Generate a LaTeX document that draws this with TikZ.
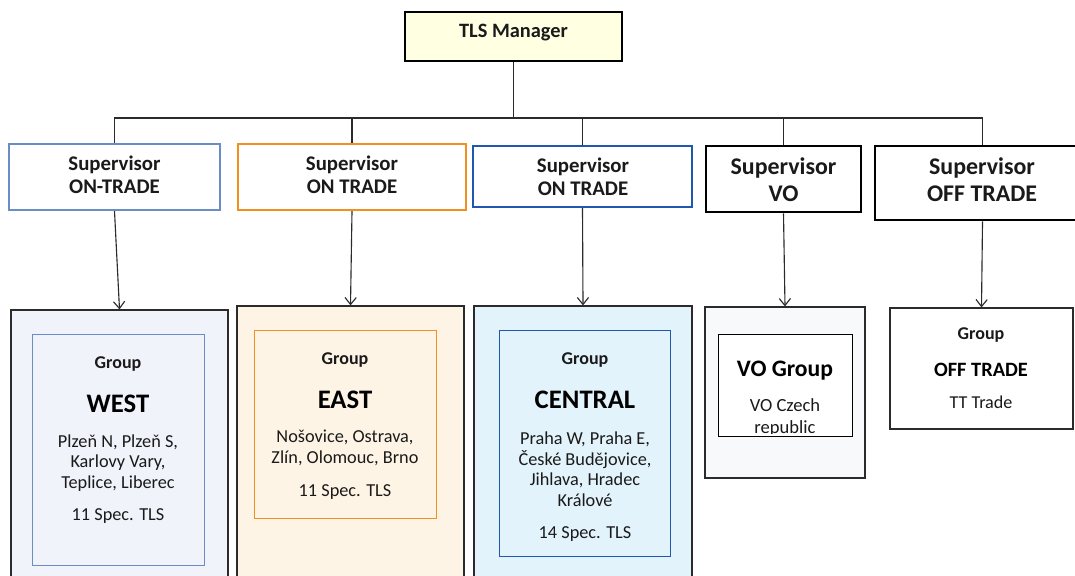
\documentclass[tikz,border=0pt]{standalone}
\usepackage{fontspec}
\setmainfont{Carlito}
\usetikzlibrary{arrows.meta,positioning}
\definecolor{tlsYellow}{HTML}{FFFFE2}
\definecolor{tlsText}{HTML}{1A1A1A}
\definecolor{tlsLine}{HTML}{2B2B2B}
\definecolor{westBorder}{HTML}{6A8CC7}
\definecolor{westFill}{HTML}{F0F3FA}
\definecolor{eastBorder}{HTML}{F0901E}
\definecolor{eastFill}{HTML}{FEF4E6}
\definecolor{centralBorder}{HTML}{1F58AE}
\definecolor{centralFill}{HTML}{E2F3FB}
\definecolor{voFill}{HTML}{F8F9FB}
\tikzset{
    mgrbox/.style={draw=black, fill=tlsYellow, line width=2pt, inner sep=0pt},
    supbox/.style={draw=black, fill=white, line width=1.6pt, inner sep=0pt},
    outerbox/.style={draw=tlsLine, line width=0.8pt, inner sep=0pt},
    innerbox/.style={line width=0.7pt, inner sep=0pt},
    suptext/.style={anchor=base, align=center, text=tlsText, font=\fontsize{14.8}{17}\selectfont\bfseries},
    bigsuptext/.style={anchor=base, align=center, text=tlsText, font=\fontsize{17}{19.9}\selectfont\bfseries},
    grptitle/.style={anchor=base, text=tlsText, font=\fontsize{12.8}{14}\selectfont\bfseries},
    grpname/.style={anchor=base, text=black, font=\fontsize{19}{21}\selectfont\bfseries},
    grptext/.style={anchor=base, align=center, text=tlsText, font=\fontsize{13}{14.5}\selectfont},
    link/.style={draw=tlsLine, line width=0.8pt},
    arrow/.style={link, -{Straight Barb[length=5pt,width=8pt]}}
}

\begin{document}
\begin{tikzpicture}[x=0.025cm, y=-0.025cm]

    \clip (0,0) rectangle (1075,576);
    \fill[white] (0,0) rectangle (1075,576);

    % Manager
    \node[mgrbox, minimum width=5.425cm, minimum height=1.225cm] (mgr) at (513.5,36.5) {};
    \node[anchor=base, text=tlsText, font=\fontsize{14.5}{16}\selectfont\bfseries] (mgrtext) at (513.5,38) {TLS Manager};

    % Supervisors
    \node[supbox, draw=westBorder, minimum width=5.275cm, minimum height=1.65cm] (sup1) at (114.5,177) {};
    \node[supbox, draw=eastBorder, minimum width=5.7cm, minimum height=1.65cm] (sup2) at (352,177) {};
    \node[supbox, draw=centralBorder, minimum width=5.475cm, minimum height=1.525cm] (sup3) at (582.5,176.5) {};
    \node[supbox, line width=2pt, minimum width=3.875cm, minimum height=1.65cm] (sup4) at (783.5,179) {};
    \node[supbox, line width=2pt, minimum width=5.375cm, minimum height=1.85cm] (sup5) at (982.5,183) {};

    \node[suptext] (sup1text) at (114.5,194) {Supervisor\\ON-TRADE};
    \node[suptext] (sup2text) at (352,194) {Supervisor\\ON TRADE};
    \node[suptext] (sup3text) at (583,196) {Supervisor\\ON TRADE};
    \node[bigsuptext] (sup4text) at (783.5,202) {Supervisor\\VO};
    \node[bigsuptext] (sup5text) at (982,202) {Supervisor\\OFF TRADE};

    % Tree lines
    \coordinate (bus) at (513.5,118);
    \draw[link] (mgr.south) -- (bus);
    \draw[link] (bus) -| (sup1.north);
    \draw[link] (bus) -| (sup2.north);
    \draw[link] (bus) -| (sup3.north);
    \draw[link] (bus) -| (sup4.north);
    \draw[link] (bus) -| (sup5.north);

    % Groups
    \node[outerbox, fill=westFill, minimum width=5.425cm, minimum height=7cm] (west) at (119.5,450) {};
    \node[innerbox, draw=westBorder, minimum width=4.275cm, minimum height=5.75cm] (westin) at (118.5,450) {};
    \node[outerbox, fill=eastFill, minimum width=5.675cm, minimum height=7.1cm] (east) at (350.5,448) {};
    \node[innerbox, draw=eastBorder, minimum width=4.525cm, minimum height=4.675cm] (eastin) at (345.5,424.5) {};
    \node[outerbox, fill=centralFill, minimum width=5.45cm, minimum height=7.1cm] (central) at (583,448) {};
    \node[innerbox, draw=centralBorder, minimum width=4.25cm, minimum height=5.625cm] (centralin) at (585,443.5) {};
    \node[outerbox, fill=voFill, minimum width=4cm, minimum height=4.275cm] (vo) at (785,392.5) {};
    \node[innerbox, draw=black, fill=white, minimum width=3.35cm, minimum height=2.525cm] (voin) at (785,385.5) {};
    \node[outerbox, fill=white, minimum width=4.575cm, minimum height=3.025cm] (off) at (981.5,368.5) {};

    % Arrows
    \draw[arrow] (sup1.south) -- (west.north);
    \draw[arrow] (sup2.south) -- (east.north);
    \draw[arrow] (sup3.south) -- (central.north);
    \draw[arrow] (sup4.south) -- (vo.north);
    \draw[arrow] (sup5.south) -- (off.north);

    % Group texts
    \node[grptitle] (westgrp) at (118,368) {Group};
    \node[grpname] (westname) at (118,412) {WEST};
    \node[grptext] (westcities) at (118,488) {Plzeň N, Plzeň S,\\Karlovy Vary,\\Teplice, Liberec};
    \node[grptext] (westspec) at (118,520) {11 Spec. TLS};

    \node[grptitle] (eastgrp) at (345,364) {Group};
    \node[grpname] (eastname) at (345,408) {EAST};
    \node[grptext] (eastcities) at (345,463) {Nošovice, Ostrava,\\Zlín, Olomouc, Brno};
    \node[grptext] (eastspec) at (345,496) {11 Spec. TLS};

    \node[grptitle] (centralgrp) at (585,364) {Group};
    \node[grpname] (centralname) at (585,408) {CENTRAL};
    \node[grptext] (centralcities) at (585,506) {Praha W, Praha E,\\České Budějovice,\\Jihlava, Hradec\\Králové};
    \node[grptext] (centralspec) at (585,538) {14 Spec. TLS};

    \node[grpname, font=\fontsize{16.8}{20}\selectfont\bfseries] (voname) at (785,376) {VO Group};
    \begin{scope}
        \clip (719,336) rectangle (851,433);
        \node[grptext, font=\fontsize{13.2}{15}\selectfont] (vocountry) at (785,433) {VO Czech\\republic};
    \end{scope}

    \node[grptitle] (offgrp) at (981,339) {Group};
    \node[grpname, font=\fontsize{14.5}{17}\selectfont\bfseries] (offname) at (981,376) {OFF TRADE};
    \node[grptext, font=\fontsize{12.9}{15}\selectfont] (offtext) at (981,408) {TT Trade};

\end{tikzpicture}
\end{document}
